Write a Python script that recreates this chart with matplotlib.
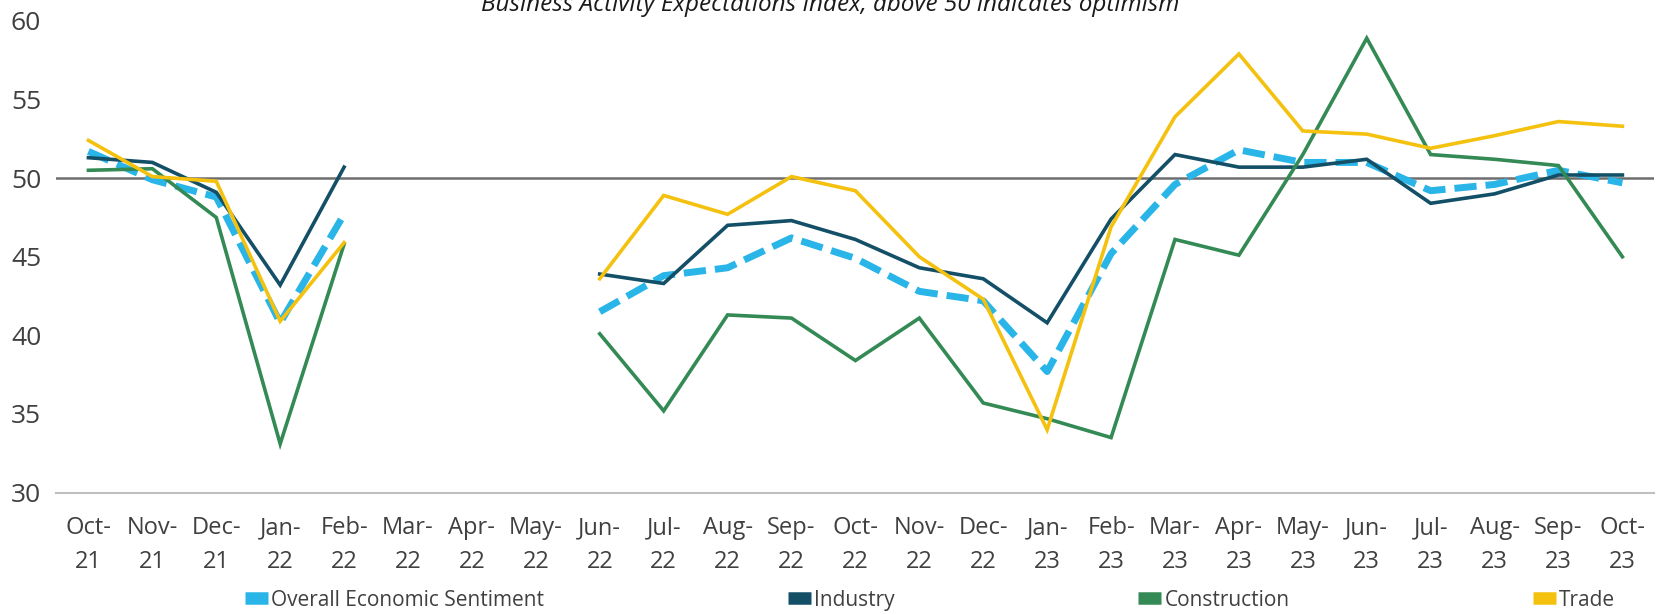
import matplotlib
matplotlib.use('Agg')
import matplotlib.pyplot as plt
import numpy as np

FONT = 'Open Sans'
TEXT_COLOR = '#404040'
nan = np.nan

months = ['Oct-\n21', 'Nov-\n21', 'Dec-\n21', 'Jan-\n22', 'Feb-\n22', 'Mar-\n22', 'Apr-\n22',
          'May-\n22', 'Jun-\n22', 'Jul-\n22', 'Aug-\n22', 'Sep-\n22', 'Oct-\n22', 'Nov-\n22',
          'Dec-\n22', 'Jan-\n23', 'Feb-\n23', 'Mar-\n23', 'Apr-\n23', 'May-\n23', 'Jun-\n23',
          'Jul-\n23', 'Aug-\n23', 'Sep-\n23', 'Oct-\n23']

overall = [51.7, 49.9, 48.8, 40.8, 47.7, nan, nan, nan, 41.5, 43.8, 44.3, 46.2, 44.9, 42.8,
           42.2, 37.7, 45.2, 49.6, 51.8, 51.0, 51.0, 49.2, 49.6, 50.5, 49.7]
industry = [51.3, 51.0, 49.1, 43.2, 50.7, nan, nan, nan, 43.9, 43.3, 47.0, 47.3, 46.1, 44.3,
            43.6, 40.8, 47.4, 51.5, 50.7, 50.7, 51.2, 48.4, 49.0, 50.2, 50.2]
construction = [50.5, 50.6, 47.5, 33.1, 45.8, nan, nan, nan, 40.1, 35.2, 41.3, 41.1, 38.4, 41.1,
                35.7, 34.7, 33.5, 46.1, 45.1, 51.5, 58.9, 51.5, 51.2, 50.8, 45.0]
trade = [52.4, 50.1, 49.8, 40.9, 45.9, nan, nan, nan, 43.6, 48.9, 47.7, 50.1, 49.2, 45.0,
         42.3, 34.0, 46.9, 53.9, 57.9, 53.0, 52.8, 51.9, 52.7, 53.6, 53.3]

series = [
    ('Overall Economic Sentiment', overall, '#29B5E8', 5.0, (0, (3.2, 1.3))),
    ('Industry', industry, '#134F66', 2.6, '-'),
    ('Construction', construction, '#348A55', 2.6, '-'),
    ('Trade', trade, '#F4C10F', 2.6, '-'),
]

fig = plt.figure(figsize=(16.61, 6.15), dpi=100)
ax = fig.add_axes([0.034, 0.199, 0.962, 0.767])
x = np.arange(len(months))

ax.axhline(50, color='#6E6E6E', lw=1.8, zorder=1)
for name, vals, color, lw, ls in series:
    ax.plot(x, vals, color=color, lw=lw, linestyle=ls, label=name, zorder=3,
            solid_joinstyle='miter', dash_capstyle='butt')

ax.set_xlim(-0.5, len(months) - 0.5)
ax.set_ylim(30, 60)
ax.set_yticks([30, 35, 40, 45, 50, 55, 60])
ax.set_xticks(x)
ax.set_xticklabels(months, fontsize=17, family=FONT, color=TEXT_COLOR, linespacing=1.55)
for lab in ax.get_yticklabels():
    lab.set_fontsize(19)
    lab.set_family(FONT)
    lab.set_color(TEXT_COLOR)
ax.tick_params(axis='both', length=0)
ax.tick_params(axis='y', pad=11)
ax.tick_params(axis='x', pad=17)
for side in ['top', 'right', 'left']:
    ax.spines[side].set_visible(False)
ax.spines['bottom'].set_color('#BFBFBF')
ax.spines['bottom'].set_linewidth(1.5)

handles = [plt.Line2D([], [], color=c, lw=9, solid_capstyle='butt') for _, _, c, _, _ in series]
leg = fig.legend(handles, [s[0] for s in series], loc='center', ncol=4,
                 bbox_to_anchor=(0.56, 0.024), frameon=False, handlelength=1.1,
                 handletextpad=0.15, columnspacing=11.7, borderpad=0,
                 prop={'family': FONT, 'size': 15})
for t in leg.get_texts():
    t.set_color(TEXT_COLOR)

fig.text(0.5, 1 - 11 / 615, 'Business Activity Expectations Index, above 50 indicates optimism',
         ha='center', va='baseline', fontsize=17.5, style='italic', family=FONT, color='#1a1a1a')

fig.savefig('out.png', dpi=100)
